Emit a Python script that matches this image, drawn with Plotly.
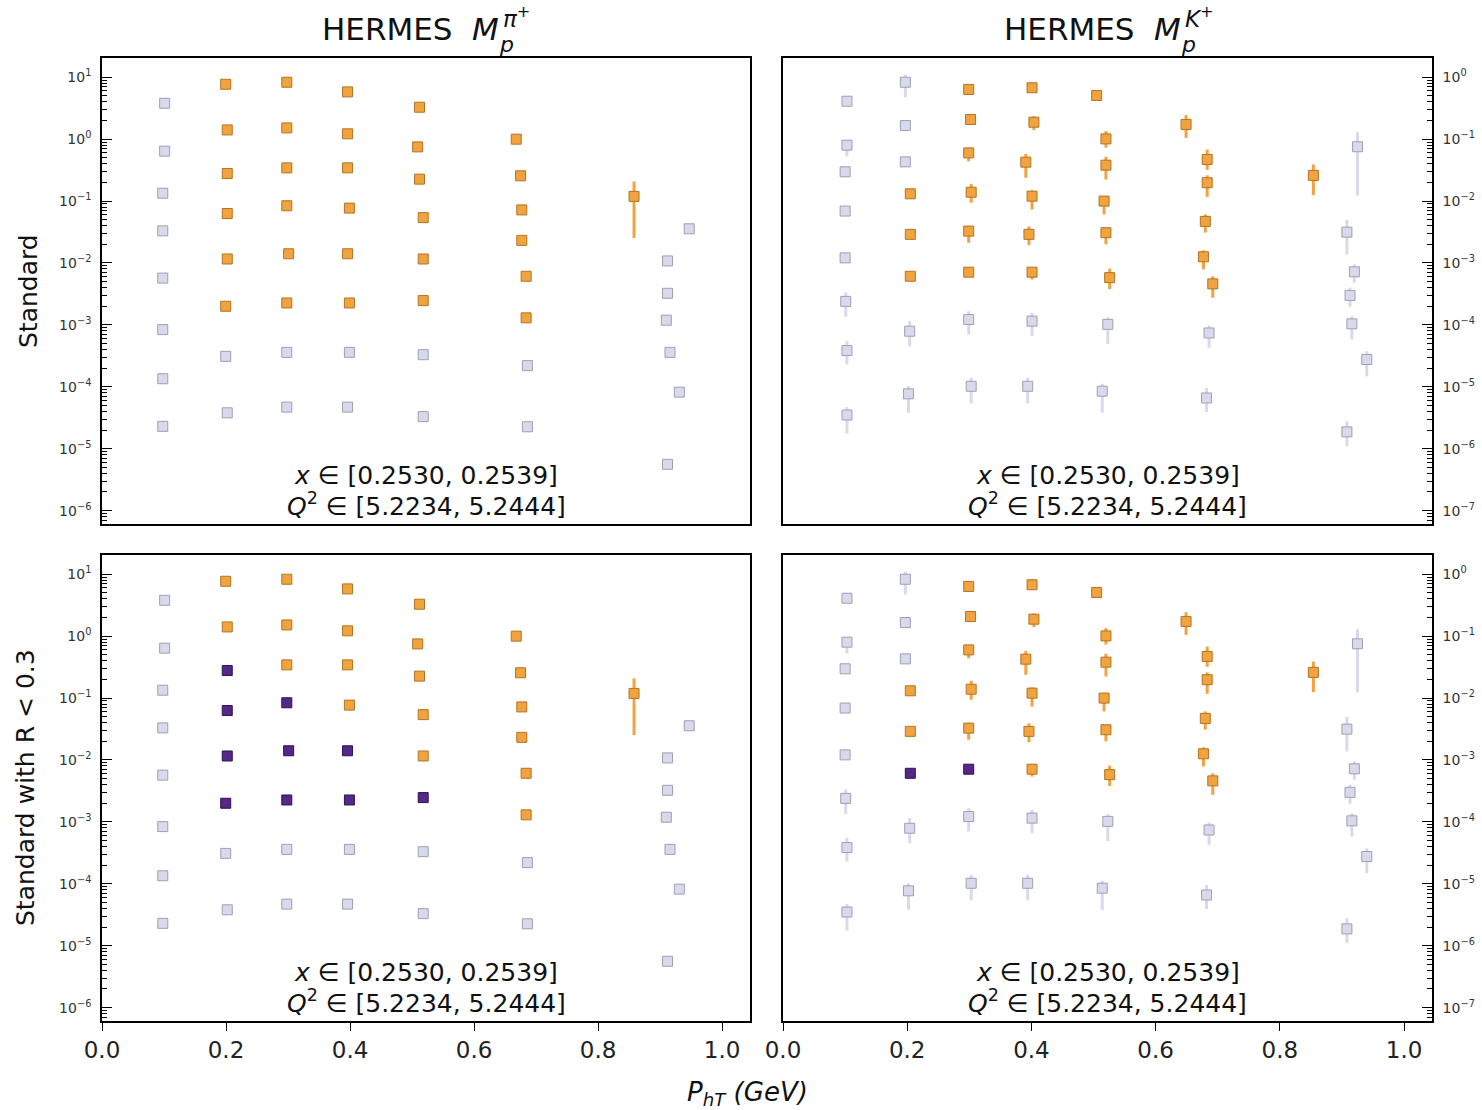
import plotly.graph_objects as go

W, H = 1482, 1110
FONT = "DejaVu Sans"

# ---------------- data: pi+ ----------------
pi_pt = [0.101, 0.101, 0.098, 0.098, 0.098, 0.098, 0.098, 0.098,
         0.1995, 0.202, 0.202, 0.202, 0.202, 0.1995, 0.1995, 0.202,
         0.298, 0.298, 0.298, 0.298, 0.301, 0.298, 0.298, 0.298,
         0.396, 0.396, 0.396, 0.399, 0.396, 0.399, 0.399, 0.396,
         0.512, 0.509, 0.512, 0.518, 0.518, 0.518, 0.518, 0.518,
         0.668, 0.675, 0.677, 0.677, 0.684, 0.684, 0.686, 0.686,
         0.858,
         0.947, 0.912, 0.912, 0.910, 0.916, 0.931, 0.912]
pi_val = [3.8, 0.64, 0.134, 0.033, 0.0057, 8.4e-4, 1.35e-4, 2.3e-5,
          7.7, 1.41, 0.279, 0.063, 0.0116, 0.0020, 3.1e-4, 3.8e-5,
          8.3, 1.52, 0.344, 0.084, 0.0141, 0.00226, 3.6e-4, 4.7e-5,
          5.8, 1.22, 0.344, 0.077, 0.0141, 0.00226, 3.6e-4, 4.7e-5,
          3.28, 0.75, 0.226, 0.054, 0.0116, 0.00247, 3.3e-4, 3.3e-5,
          1.0, 0.256, 0.072, 0.0232, 0.0061, 0.0013, 2.2e-4, 2.26e-5,
          0.119,
          0.0357, 0.0108, 0.00324, 0.00119, 3.6e-4, 8.2e-5, 5.6e-6]
# visible error bars (index -> bounds)
pi_err_idx = [48]
pi_err_lo = [0.0253]
pi_err_hi = [0.207]
pi_std = [0, 0, 0, 0, 0, 0, 0, 0,
          1, 1, 1, 1, 1, 1, 0, 0,
          1, 1, 1, 1, 1, 1, 0, 0,
          1, 1, 1, 1, 1, 1, 0, 0,
          1, 1, 1, 1, 1, 1, 0, 0,
          1, 1, 1, 1, 1, 1, 0, 0,
          1,
          0, 0, 0, 0, 0, 0, 0]
pi_rcut = [0, 0, 0, 0, 0, 0, 0, 0,
           0, 0, 1, 1, 1, 1, 0, 0,
           0, 0, 0, 1, 1, 1, 0, 0,
           0, 0, 0, 0, 1, 1, 0, 0,
           0, 0, 0, 0, 0, 1, 0, 0,
           0, 0, 0, 0, 0, 0, 0, 0,
           0,
           0, 0, 0, 0, 0, 0, 0]

# ---------------- data: K+ ----------------
ka_pt = [0.103, 0.103, 0.100, 0.100, 0.100, 0.101, 0.103, 0.103,
         0.197, 0.197, 0.197, 0.205, 0.205, 0.205, 0.204, 0.202,
         0.299, 0.302, 0.299, 0.303, 0.299, 0.299, 0.299, 0.303,
         0.401, 0.404, 0.391, 0.401, 0.396, 0.401, 0.401, 0.394,
         0.505, 0.520, 0.520, 0.517, 0.520, 0.526, 0.523, 0.514,
         0.649, 0.683, 0.683, 0.680, 0.677, 0.692, 0.686, 0.682,
         0.854,
         0.925, 0.908, 0.920, 0.913, 0.916, 0.940, 0.908]
ka_val = [0.41, 0.080, 0.0297, 0.0069, 0.00121, 2.4e-4, 3.85e-5, 3.5e-6,
          0.83, 0.166, 0.043, 0.0131, 0.0029, 6.1e-4, 7.9e-5, 7.7e-6,
          0.635, 0.208, 0.060, 0.0139, 0.00327, 7.1e-4, 1.22e-4, 1.02e-5,
          0.676, 0.188, 0.0425, 0.012, 0.0029, 7.1e-4, 1.15e-4, 1.02e-5,
          0.508, 0.101, 0.038, 0.0100, 0.00308, 5.8e-4, 1.02e-4, 8.5e-6,
          0.173, 0.047, 0.0198, 0.0047, 0.00126, 4.6e-4, 7.4e-5, 6.6e-6,
          0.026,
          0.0754, 0.00315, 7.2e-4, 3.0e-4, 1.04e-4, 2.76e-5, 1.87e-6]
ka_lo = [None, 0.053, 0.026, None, None, 1.35e-4, 2.3e-5, 1.76e-6,
         0.47, None, None, None, None, None, 4.5e-5, 3.8e-6,
         0.55, None, 0.044, 0.0094, 0.00212, None, 7.0e-5, 5.4e-6,
         None, 0.14, 0.0238, 0.0073, 0.00194, 5.4e-4, 6.6e-5, 5.4e-6,
         None, 0.073, 0.0223, 0.0061, 0.0020, 3.8e-4, 4.9e-5, 3.8e-6,
         0.105, 0.032, 0.0117, 0.0031, 7.9e-4, 2.74e-4, 4.27e-5, 3.9e-6,
         0.0125,
         0.0123, 0.00137, 4.8e-4, 1.96e-4, 5.8e-5, 1.48e-5, 1.1e-6]
ka_hi = [None, 0.09, None, None, None, 3.33e-4, 5.5e-5, 4.7e-6,
         1.11, None, None, None, None, None, 1.15e-4, 1.02e-5,
         0.72, None, 0.068, 0.019, 0.0040, None, 1.66e-4, 1.4e-5,
         None, 0.235, 0.058, 0.015, 0.0039, 7.5e-4, 1.57e-4, 1.4e-5,
         None, 0.135, 0.052, 0.0115, 0.0037, 8.1e-4, 1.33e-4, 1.12e-5,
         0.244, 0.068, 0.026, 0.0061, 0.0016, 6.1e-4, 9.8e-5, 9.6e-6,
         0.039,
         0.13, 0.005, 9.5e-4, 4.0e-4, 1.38e-4, 3.76e-5, 2.78e-6]
ka_std = [0, 0, 0, 0, 0, 0, 0, 0,
          0, 0, 0, 1, 1, 1, 0, 0,
          1, 1, 1, 1, 1, 1, 0, 0,
          1, 1, 1, 1, 1, 1, 0, 0,
          1, 1, 1, 1, 1, 1, 0, 0,
          1, 1, 1, 1, 1, 1, 0, 0,
          1,
          0, 0, 0, 0, 0, 0, 0]
ka_rcut = [0, 0, 0, 0, 0, 0, 0, 0,
           0, 0, 0, 0, 0, 1, 0, 0,
           0, 0, 0, 0, 0, 1, 0, 0,
           0, 0, 0, 0, 0, 0, 0, 0,
           0, 0, 0, 0, 0, 0, 0, 0,
           0, 0, 0, 0, 0, 0, 0, 0,
           0,
           0, 0, 0, 0, 0, 0, 0]

# tick labels
x_tick_vals = [0.0, 0.2, 0.4, 0.6, 0.8, 1.0]
x_tick_text = ["0.0", "0.2", "0.4", "0.6", "0.8", "1.0"]
pi_exps = [1, 0, -1, -2, -3, -4, -5, -6]
ka_exps = [0, -1, -2, -3, -4, -5, -6, -7]

panel_text1 = "<i>x</i> ∈ [0.2530, 0.2539]"
panel_text2 = "<i>Q</i><sup>2</sup> ∈ [5.2234, 5.2444]"

# ---------------- styles ----------------
GREY, GREY_EDGE = "#d8daeb", "#9e9fb4"
ORANGE, ORANGE_EDGE = "#f1a340", "#b27423"
PURPLE, PURPLE_EDGE = "#542788", "#2f1250"

# pi+ error bounds expanded to full lists
pi_lo = [None] * len(pi_val)
pi_hi = [None] * len(pi_val)
for k, i in enumerate(pi_err_idx):
    pi_lo[i] = pi_err_lo[k]
    pi_hi[i] = pi_err_hi[k]

fig = go.Figure()


def add_panel(xa, ya, pt, val, lo, hi, std, rcut, use_r):
    groups = [
        (GREY, GREY_EDGE, [i for i in range(len(val)) if std[i] == 0]),
        (ORANGE, ORANGE_EDGE, [i for i in range(len(val)) if std[i] == 1 and not (use_r and rcut[i] == 1)]),
        (PURPLE, PURPLE_EDGE, [i for i in range(len(val)) if std[i] == 1 and use_r and rcut[i] == 1]),
    ]
    for col, edge, idx in groups:
        if not idx:
            continue
        xs = [pt[i] for i in idx]
        ys = [val[i] for i in idx]
        ep = [(hi[i] - val[i]) if hi[i] is not None else 0 for i in idx]
        em = [(val[i] - lo[i]) if lo[i] is not None else 0 for i in idx]
        fig.add_trace(go.Scatter(
            x=xs, y=ys, mode="markers", xaxis=xa, yaxis=ya, showlegend=False,
            marker=dict(symbol="square", size=10, color=col, line=dict(color=edge, width=1)),
            error_y=dict(type="data", symmetric=False, array=ep, arrayminus=em,
                         color=col, thickness=3, width=0),
        ))


add_panel("x", "y", pi_pt, pi_val, pi_lo, pi_hi, pi_std, pi_rcut, False)
add_panel("x2", "y2", ka_pt, ka_val, ka_lo, ka_hi, ka_std, ka_rcut, False)
add_panel("x3", "y3", pi_pt, pi_val, pi_lo, pi_hi, pi_std, pi_rcut, True)
add_panel("x4", "y4", ka_pt, ka_val, ka_lo, ka_hi, ka_std, ka_rcut, True)

# ---------------- layout geometry (pixels) ----------------
LX = (102, 750)
RX = (783, 1432)
TY = (58, 524)
BY = (555, 1021)


def xdom(p):
    return [p[0] / W, p[1] / W]


def ydom(p):
    return [1 - p[1] / H, 1 - p[0] / H]


minor_vals = [m * 10.0 ** k for k in range(-9, 3) for m in range(2, 10)]


def exp_label(e):
    if e < 0:
        return "10<sup>\u2212%d</sup>" % (-e)
    return "10<sup>%d</sup>" % e


def yaxis(dom, rng, exps, side, anchor):
    return dict(
        type="log", domain=dom, range=rng, anchor=anchor, side=side, automargin=False,
        tickmode="array", tickvals=[10.0 ** e for e in exps], ticktext=[exp_label(e) for e in exps],
        ticks="inside", ticklen=10, tickwidth=1.2, tickcolor="black",
        minor=dict(tickmode="array", tickvals=minor_vals, ticks="inside", ticklen=5,
                   tickwidth=1, tickcolor="black", showgrid=False),
        showline=True, linecolor="black", linewidth=1.6, mirror=True,
        showgrid=False, zeroline=False, ticklabelstandoff=6,
        tickfont=dict(family=FONT, size=14, color="#333333"),
    )


def xaxis(dom, anchor, labels):
    d = dict(domain=dom, range=[0, 1.045], anchor=anchor, automargin=False,
             showline=True, linecolor="black", linewidth=1.6, mirror=True,
             showgrid=False, zeroline=False)
    if labels:
        d.update(tickmode="array", tickvals=x_tick_vals, ticktext=x_tick_text,
                 ticks="outside", ticklen=8, tickwidth=1.2, tickcolor="black",
                 tickfont=dict(family=FONT, size=23, color="#222222"))
    else:
        d.update(showticklabels=False, ticks="")
    return d


pi_rng = [-6.216, 1.311]
ka_rng = [-7.216, 0.311]

fig.update_layout(
    width=W, height=H, margin=dict(l=0, r=0, t=0, b=0, pad=0, autoexpand=False),
    paper_bgcolor="white", plot_bgcolor="white",
    font=dict(family=FONT, color="#222222"),
    xaxis=xaxis(xdom(LX), "y", False),
    yaxis=yaxis(ydom(TY), pi_rng, pi_exps, "left", "x"),
    xaxis2=xaxis(xdom(RX), "y2", False),
    yaxis2=yaxis(ydom(TY), ka_rng, ka_exps, "right", "x2"),
    xaxis3=xaxis(xdom(LX), "y3", True),
    yaxis3=yaxis(ydom(BY), pi_rng, pi_exps, "left", "x3"),
    xaxis4=xaxis(xdom(RX), "y4", True),
    yaxis4=yaxis(ydom(BY), ka_rng, ka_exps, "right", "x4"),
)

ann = []


def pa(px, py, text, size, xanchor="center", yanchor="middle", angle=0):
    ann.append(dict(x=px / W, y=1 - py / H, xref="paper", yref="paper", text=text,
                    showarrow=False, xanchor=xanchor, yanchor=yanchor, textangle=angle,
                    font=dict(family=FONT, size=size, color="#111111")))


# column titles
for x0, hadron in ((320, "<i>π</i><sup>+</sup>"), (1002, "<i>K</i><sup>+</sup>")):
    pa(x0, 29, "HERMES", 31, xanchor="left")
    pa(x0 + 150, 29, "<i>M</i>", 31, xanchor="left")
    pa(x0 + 177, 44, "<i>p</i>", 22, xanchor="left")
    pa(x0 + 181, 17, hadron, 23, xanchor="left")

# panel annotations
for (xl, xr), (yt, yb) in ((LX, TY), (RX, TY), (LX, BY), (RX, BY)):
    cx = (xl + xr) / 2
    pa(cx, yb - 49, panel_text1, 25)
    pa(cx, yb - 20, panel_text2, 25)

# row labels
pa(28, (TY[0] + TY[1]) / 2, "Standard", 25, angle=-90)
pa(25, (BY[0] + BY[1]) / 2, "Standard with R &lt; 0.3", 25, angle=-90)

# x title
pa(747, 1093, "<i>P<sub>hT</sub> (GeV)</i>", 26)

fig.update_layout(annotations=ann)

fig.write_html("out.html", config={"displayModeBar": False},
               post_script="document.body.style.margin='0';document.documentElement.style.overflow='hidden';")
